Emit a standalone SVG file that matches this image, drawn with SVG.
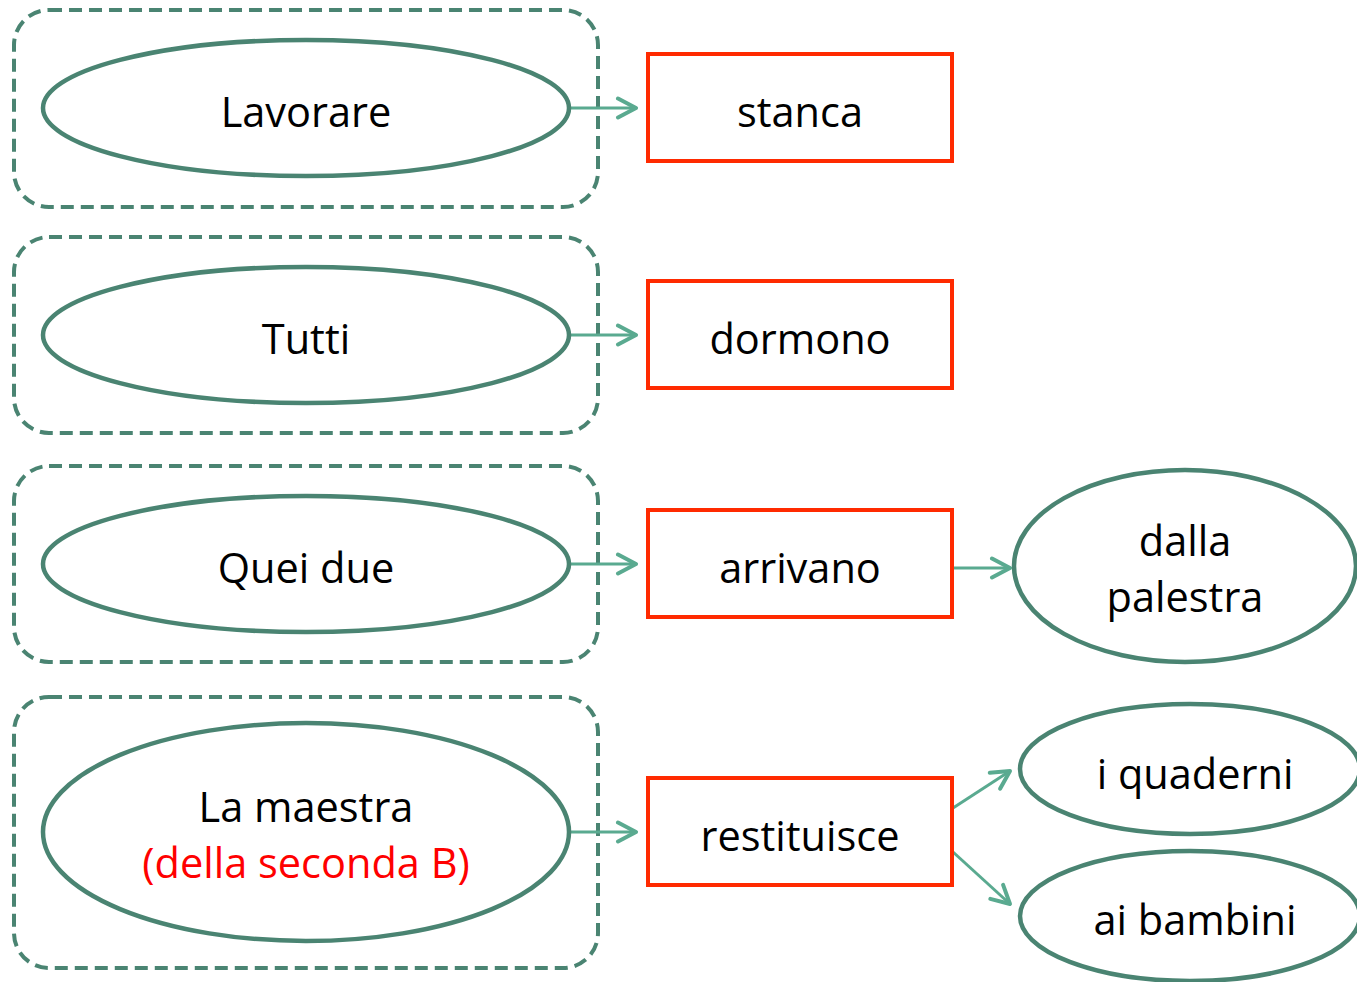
<svg xmlns="http://www.w3.org/2000/svg" width="1357" height="982" viewBox="0 0 1357 982">
<defs>
<style>
.grp{fill:none;stroke:#4a8472;stroke-width:4;stroke-dasharray:13 7}
.ell{fill:#fff;stroke:#4a8472;stroke-width:4.5}
.box{fill:#fff;stroke:#ff2a00;stroke-width:4}
.t{font-family:"Open Sans","Noto Sans",sans-serif;font-size:41.5px;fill:#000;text-anchor:middle}
.red{fill:#ff0000}
.c{fill:none;stroke:#5aaa90;stroke-width:3;marker-end:url(#ah)}
</style>
<marker id="ah" viewBox="0 0 24 24" refX="21" refY="12" markerWidth="24" markerHeight="24" markerUnits="userSpaceOnUse" orient="auto">
<path d="M3,2.5 L21,12 L3,21.5" fill="none" stroke="#5aaa90" stroke-width="4" stroke-linecap="round" stroke-linejoin="round"/>
</marker>
</defs>
<rect width="1357" height="982" fill="#fff"/>
<g id="group1"><rect class="grp" x="14" y="10" width="584" height="197" rx="35"/></g>
<g id="group2"><rect class="grp" x="14" y="237" width="584" height="196" rx="35"/></g>
<g id="group3"><rect class="grp" x="14" y="466" width="584" height="196" rx="35"/></g>
<g id="group4"><rect class="grp" x="14" y="697" width="584" height="271" rx="35"/></g>
<g id="connectors">
<line class="c" x1="569" y1="108" x2="636" y2="108"/>
<line class="c" x1="569" y1="335" x2="636" y2="335"/>
<line class="c" x1="569" y1="564" x2="636" y2="564"/>
<line class="c" x1="569" y1="832" x2="636" y2="832"/>
<line class="c" x1="952" y1="568" x2="1010" y2="568"/>
<line class="c" x1="953" y1="808" x2="1010" y2="771"/>
<line class="c" x1="953" y1="852" x2="1010" y2="904"/>
</g>
<g id="lavorare"><ellipse class="ell" cx="306" cy="108" rx="263" ry="68"/><text class="t" x="306" y="127">Lavorare</text></g>
<g id="tutti"><ellipse class="ell" cx="306" cy="335" rx="263" ry="68"/><text class="t" x="306" y="354">Tutti</text></g>
<g id="quei-due"><ellipse class="ell" cx="306" cy="564" rx="263" ry="68"/><text class="t" x="306" y="583">Quei due</text></g>
<g id="la-maestra"><ellipse class="ell" cx="306" cy="832" rx="263" ry="109"/><text class="t" x="306" y="822">La maestra</text><text class="t red" x="306" y="878">(della seconda B)</text></g>
<g id="stanca"><rect class="box" x="648" y="54" width="304" height="107"/><text class="t" x="800" y="127">stanca</text></g>
<g id="dormono"><rect class="box" x="648" y="281" width="304" height="107"/><text class="t" x="800" y="354">dormono</text></g>
<g id="arrivano"><rect class="box" x="648" y="510" width="304" height="107"/><text class="t" x="800" y="583">arrivano</text></g>
<g id="restituisce"><rect class="box" x="648" y="778" width="304" height="107"/><text class="t" x="800" y="851">restituisce</text></g>
<g id="dalla-palestra"><ellipse class="ell" cx="1185" cy="566" rx="171" ry="96"/><text class="t" x="1185" y="556">dalla</text><text class="t" x="1185" y="612">palestra</text></g>
<g id="i-quaderni"><ellipse class="ell" cx="1190" cy="769" rx="170" ry="65"/><text class="t" x="1195" y="789">i quaderni</text></g>
<g id="ai-bambini"><ellipse class="ell" cx="1190" cy="916" rx="170" ry="65"/><text class="t" x="1195" y="935">ai bambini</text></g>
</svg>
